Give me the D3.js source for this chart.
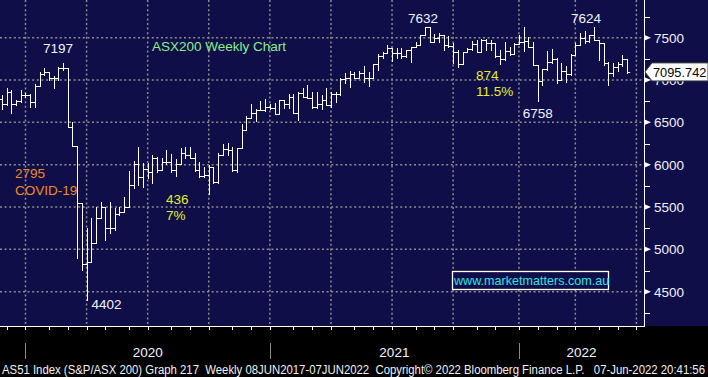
<!DOCTYPE html>
<html>
<head>
<meta charset="utf-8">
<script src="https://cdn.jsdelivr.net/npm/d3@7"></script>
<style>
  body { margin: 0; background: #000; }
  svg { display: block; font-family: "Liberation Sans", Arial, sans-serif; }
</style>
</head>
<body>
<div id="chart"></div>
<script>
// size of the picture
const width = 708; const height = 377;
const plotRight = 644; const plotBottom = 326;

// weekly bars, first one ends Friday 22 Nov 2019
const firstWeek = new Date(2019, 10, 22);
const opens = [6776,6713,6855,6713,6753,6824,6824,6745,6934,7067,7099,7028,7020,7138,7138,6449,6225,5544,4823,4847,
  5071,5375,5505,5249,5249,5414,5445,5505,5760,6008,5851,5945,5910,6075,5937,6036,6036,5937,6008,6142,
  6114,6075,5937,5866,5878,5969,5792,6114,6181,6173,5937,6193,6410,6547,6606,6642,6642,6686,6674,6595,
  6760,6713,6804,6607,6843,6804,6792,6686,6713,6764,6705,6831,6831,7008,7028,7067,7028,7079,7028,7028,
  7186,7288,7315,7374,7315,7315,7284,7355,7394,7414,7532,7632,7453,7492,7532,7414,7402,7335,7189,7327,
  7366,7426,7327,7473,7441,7441,7284,7244,7347,7307,7426,7453,7465,7394,7177,6992,7126,7217,7244,7000,
  7111,7071,7296,7414,7492,7465,7532,7473,7433,7205,7087,7150,7189,7244];
const highs = [6824,6902,6883,6764,6883,6843,6831,6949,7099,7146,7099,7052,7158,7197,7138,6508,6225,5544,5249,5367,
  5505,5564,5505,5564,5485,5505,5623,5925,6043,6213,6016,6024,6110,6095,6075,6173,6122,6063,6193,6205,
  6205,6134,6036,5969,5996,5969,6142,6244,6252,6205,6201,6480,6575,6717,6658,6752,6776,6713,6725,6764,
  6764,6831,6831,6855,6910,6941,6863,6863,6823,6910,6863,6863,7020,7079,7107,7099,7107,7170,7099,7186,
  7304,7335,7414,7374,7374,7374,7355,7394,7453,7532,7632,7632,7544,7559,7532,7520,7433,7355,7335,7374,
  7465,7473,7481,7481,7473,7441,7355,7453,7394,7441,7532,7630,7504,7453,7177,7126,7347,7363,7256,7205,
  7166,7307,7433,7559,7583,7532,7624,7473,7441,7217,7205,7217,7296,7244];
const lows = [6658,6705,6607,6705,6745,6804,6686,6686,6934,7060,7000,6910,7000,7119,6449,6225,4894,4757,4402,4847,
  5071,5375,5111,5190,5229,5406,5445,5505,5721,5760,5732,5839,5788,5917,5937,6008,5917,5866,6008,6075,
  6075,5925,5851,5858,5654,5788,5788,6114,6114,5925,5917,6193,6410,6547,6516,6642,6634,6658,6595,6595,
  6674,6674,6607,6528,6804,6784,6674,6674,6658,6705,6686,6745,6823,6969,6922,7020,7028,6981,6934,7028,
  7119,7264,7315,7229,7256,7256,7276,7217,7394,7414,7532,7453,7453,7453,7355,7394,7197,7158,7189,7327,
  7355,7327,7327,7355,7355,7276,7185,7237,7296,7303,7426,7347,7394,7177,6758,6941,7118,7197,6969,7000,
  6981,7059,7296,7414,7441,7453,7473,7237,7177,6941,7048,7111,7166,7087];
const closes = [6713,6855,6713,6753,6824,6824,6745,6934,7067,7099,7028,7020,7138,7138,6449,6225,5544,4823,4847,5071,
  5375,5505,5249,5249,5414,5445,5505,5760,6008,5851,5945,5910,6075,5937,6036,6036,5937,6008,6142,6114,
  6075,5937,5866,5878,5969,5792,6114,6181,6173,5937,6193,6410,6547,6606,6642,6642,6686,6674,6595,6760,
  6713,6804,6607,6843,6804,6792,6686,6713,6764,6705,6831,6831,7008,7028,7067,7028,7079,7028,7028,7186,
  7288,7315,7374,7315,7315,7284,7355,7394,7414,7532,7632,7453,7492,7532,7414,7402,7335,7189,7327,7366,
  7426,7327,7473,7441,7441,7284,7244,7347,7307,7426,7453,7465,7394,7177,6992,7126,7217,7244,7000,7111,
  7071,7296,7414,7492,7465,7532,7473,7433,7205,7087,7150,7189,7244,7096];
const lastPrice = 7095.742;

const priceTicks = [4500, 5000, 5500, 6000, 6500, 7000, 7500];
const minorTicks = [4250, 4750, 5250, 5750, 6250, 6750, 7250, 7750];
const years = [2020, 2021, 2022];

// annotations: [text, bar index, value, dx, dy, colour, anchor]
const notes = [
  ["7197", 13, 7197, -5, -10, "#eef4ff", "middle"],
  ["4402", 18, 4402, 5, 9, "#eef4ff", "start"],
  ["7632", 90, 7632, -2, -4, "#eef4ff", "middle"],
  ["6758", 114, 6758, -15, 17, "#eef4ff", "start"],
  ["7624", 126, 7624, -8, -4, "#eef4ff", "middle"]
];
const freeNotes = [
  ["ASX200 Weekly Chart", 152, 50.5, "#88ee88"],
  ["874", 476, 80, "#e2f02a"],
  ["11.5%", 476, 96, "#e2f02a"],
  ["2795", 15, 178, "#f28a1e"],
  ["COVID-19", 15, 194.5, "#f28a1e"],
  ["436", 166, 204, "#e2f02a"],
  ["7%", 166, 220, "#e2f02a"]
];
const footer = "AS51 Index (S&P/ASX 200) Graph 217  Weekly 08JUN2017-07JUN2022  Copyright\u00A9 2022 Bloomberg Finance L.P.   07-Jun-2022 20:41:56";

const weeks = d3.timeFriday.range(firstWeek, d3.timeDay.offset(firstWeek, closes.length * 7));
const bars = weeks.map((d, i) => ({date: d, o: opens[i], h: highs[i], l: lows[i], c: closes[i]}));

const svg = d3.select('#chart')
  .append('svg')
    .attr('width', width)
    .attr('height', height);

svg.append('rect').attr('width', width).attr('height', height).attr('fill', '#000');
svg.append('rect').attr('width', width).attr('height', plotBottom).attr('fill', '#100e48');

const x_scale = d3.scaleLinear()
  .domain([0, bars.length - 1])
  .range([2, 627]);
const y_scale = d3.scaleLinear()
  .domain([4095, 7945])
  .range([plotBottom, 0]);
const step = x_scale(1) - x_scale(0);

// bloomberg puts the marks on the last bar before a date
function xAt(date) {
  return x_scale(d3.timeFriday.count(firstWeek, new Date(+date - 1)));
}
const px = v => Math.round(v) + 0.5;

// grid
const grid = svg.append('g')
  .attr('stroke', '#8c8c8c')
  .attr('stroke-width', 1.5)
  .attr('stroke-dasharray', '2,2.6');
grid.selectAll('line.h')
  .data(priceTicks)
  .join('line')
    .attr('x1', 0).attr('x2', plotRight)
    .attr('y1', d => y_scale(d)).attr('y2', d => y_scale(d));
const quarters = d3.timeMonth.every(3).range(new Date(2020, 0, 1), new Date(2022, 7, 1));
grid.selectAll('line.v')
  .data(quarters)
  .join('line')
    .attr('x1', d => xAt(d)).attr('x2', d => xAt(d))
    .attr('y1', 0).attr('y2', plotBottom);

// ohlc bars
svg.append('g')
  .attr('stroke', '#fff')
  .attr('stroke-width', 1)
  .attr('fill', 'none')
  .selectAll('path')
  .data(bars)
  .join('path')
    .attr('d', (d, i) => {
      const x = px(x_scale(i));
      const half = step / 2 + 0.3;
      return `M${x},${px(y_scale(d.h)) - 0.5}V${px(y_scale(d.l)) + 0.5}` +
        `M${x - half},${px(y_scale(d.o))}H${x}` +
        `M${x},${px(y_scale(d.c))}H${x + half}`;
    });

// right axis
svg.append('line')
  .attr('x1', plotRight + 0.5).attr('x2', plotRight + 0.5)
  .attr('y1', 0).attr('y2', plotBottom)
  .attr('stroke', '#fff');
svg.append('line')
  .attr('x1', 0).attr('x2', plotRight + 1)
  .attr('y1', plotBottom + 0.5).attr('y2', plotBottom + 0.5)
  .attr('stroke', '#fff');
svg.append('g')
  .selectAll('path')
  .data(priceTicks)
  .join('path')
    .attr('d', d => `M${plotRight},${y_scale(d) - 3}L${plotRight + 7},${y_scale(d)}L${plotRight},${y_scale(d) + 3}Z`)
    .attr('fill', '#fff');
svg.append('g')
  .selectAll('line')
  .data(minorTicks)
  .join('line')
    .attr('x1', plotRight).attr('x2', plotRight + 6)
    .attr('y1', d => px(y_scale(d))).attr('y2', d => px(y_scale(d)))
    .attr('stroke', '#fff');
svg.append('g')
  .selectAll('text')
  .data(priceTicks)
  .join('text')
    .attr('x', plotRight + 10)
    .attr('y', d => y_scale(d) + 5)
    .attr('fill', '#eef2ff')
    .attr('font-size', 13.5)
    .text(d => d);

// last price box
const yLast = y_scale(lastPrice);
svg.append('path')
  .attr('d', `M${plotRight + 1},${yLast}L${plotRight + 8},${yLast - 9}H${width}V${yLast + 9}H${plotRight + 8}Z`)
  .attr('fill', '#fff')
  .attr('stroke', '#444');
svg.append('text')
  .attr('x', plotRight + 9)
  .attr('y', yLast + 5)
  .attr('font-size', 12.8)
  .attr('fill', '#000')
  .text(lastPrice.toFixed(3));

// bottom axis
const months = d3.timeMonth.range(new Date(2019, 11, 1), new Date(2022, 7, 1));
svg.append('g')
  .selectAll('line')
  .data(months)
  .join('line')
    .attr('x1', d => px(xAt(d))).attr('x2', d => px(xAt(d)))
    .attr('y1', plotBottom).attr('y2', plotBottom + 4)
    .attr('stroke', '#fff');
const yearStart = years.map(y => xAt(new Date(y, 0, 1)));
svg.append('g')
  .selectAll('line')
  .data(yearStart)
  .join('line')
    .attr('x1', d => px(d)).attr('x2', d => px(d))
    .attr('y1', 343).attr('y2', 359)
    .attr('stroke', '#8a8a8a');
svg.append('g')
  .selectAll('text')
  .data(years)
  .join('text')
    .attr('x', (d, i) => ((yearStart[i]) + (i < years.length - 1 ? yearStart[i + 1] : plotRight)) / 2)
    .attr('y', 357)
    .attr('text-anchor', 'middle')
    .attr('font-size', 13.5)
    .attr('fill', '#f4f4ff')
    .text(d => d);

svg.append('text')
  .attr('x', 2)
  .attr('y', 374)
  .attr('font-size', 12.3)
  .attr('fill', '#f2f2f2')
  .attr('textLength', 703)
  .attr('lengthAdjust', 'spacingAndGlyphs')
  .style('white-space', 'pre')
  .text(footer);

// annotations
svg.append('g')
  .selectAll('text')
  .data(notes)
  .join('text')
    .attr('x', d => x_scale(d[1]) + d[3])
    .attr('y', d => y_scale(d[2]) + d[4])
    .attr('text-anchor', d => d[6])
    .attr('font-size', 13.5)
    .attr('fill', d => d[5])
    .text(d => d[0]);
svg.append('g')
  .selectAll('text')
  .data(freeNotes)
  .join('text')
    .attr('x', d => d[1])
    .attr('y', d => d[2])
    .attr('font-size', 13.5)
    .attr('fill', d => d[3])
    .text(d => d[0]);

// website box
svg.append('rect')
  .attr('x', 452.5).attr('y', 271.5)
  .attr('width', 156).attr('height', 18)
  .attr('fill', '#100e48')
  .attr('stroke', '#fff')
  .attr('stroke-width', 1.3);
svg.append('text')
  .attr('x', 454)
  .attr('y', 285)
  .attr('font-size', 12.6)
  .attr('fill', '#2fe3e6')
  .text('www.marketmatters.com.au');
</script>
</body>
</html>
